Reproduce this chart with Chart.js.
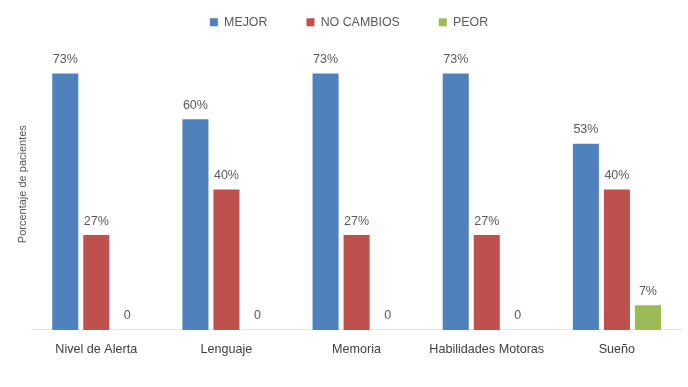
<!DOCTYPE html>
<html>
<head>
<meta charset="utf-8">
<script src="https://cdn.jsdelivr.net/npm/chart.js@4/dist/chart.umd.min.js"></script>
<style>
  html, body { margin: 0; padding: 0; background: #fff; }
</style>
</head>
<body>
<canvas id="grafico" width="688" height="387"></canvas>
<script>
const categorias = ['Nivel de Alerta', 'Lenguaje', 'Memoria', 'Habilidades Motoras', 'Sueño'];
const mejor = [73, 60, 73, 73, 53];
const noCambios = [27, 40, 27, 27, 40];
const peor = [0, 0, 0, 0, 7];

const fuente = '"Liberation Sans", Arial, sans-serif';

// etiquetas de valor encima de cada barra ("0" cuando no hay barra)
const etiquetasValor = {
    id: 'etiquetasValor',
    afterDatasetsDraw(chart) {
        const ctx = chart.ctx;
        ctx.save();
        ctx.font = '12.5px ' + fuente;
        ctx.fillStyle = '#595959';
        ctx.textAlign = 'center';
        ctx.textBaseline = 'middle';
        chart.data.datasets.forEach((ds, i) => {
            chart.getDatasetMeta(i).data.forEach((bar, j) => {
                const v = ds.data[j];
                const txt = v === 0 ? '0' : v + '%';
                ctx.fillText(txt, bar.x, bar.y - 14);
            });
        });
        ctx.restore();
    }
};

const ctx = document.getElementById('grafico').getContext('2d');
new Chart(ctx, {
    type: 'bar',
    data: {
        labels: categorias,
        datasets: [
            { label: 'MEJOR', data: mejor, backgroundColor: '#4F81BD' },
            { label: 'NO CAMBIOS', data: noCambios, backgroundColor: '#C0504D' },
            { label: 'PEOR', data: peor, backgroundColor: '#9BBB59' }
        ]
    },
    options: {
        responsive: false,
        animation: false,
        categoryPercentage: 0.715,
        barPercentage: 0.84,
        // arriba negativo: el padding de la leyenda separa los items pero no debe bajar el grafico
        layout: { padding: { left: 16, right: 6, top: -23, bottom: 18 } },
        plugins: {
            legend: {
                position: 'top',
                labels: {
                    usePointStyle: true,
                    pointStyle: 'rect',
                    boxWidth: 8,
                    boxHeight: 8,
                    padding: 39,
                    color: '#595959',
                    font: { family: fuente, size: 12.4 }
                }
            },
            tooltip: { enabled: false }
        },
        scales: {
            x: {
                grid: { display: false, drawTicks: false },
                border: { display: true, color: '#e8e8e8' },
                ticks: {
                    color: '#404040',
                    padding: 12,
                    font: { family: fuente, size: 12.6 }
                }
            },
            y: {
                min: 0,
                max: 83,
                grid: { display: false, drawTicks: false },
                border: { display: false },
                ticks: { display: false },
                title: {
                    display: true,
                    text: 'Porcentaje de pacientes',
                    color: '#595959',
                    padding: { top: 0, bottom: 2 },
                    font: { family: fuente, size: 11 }
                }
            }
        }
    },
    plugins: [etiquetasValor]
});
</script>
</body>
</html>
